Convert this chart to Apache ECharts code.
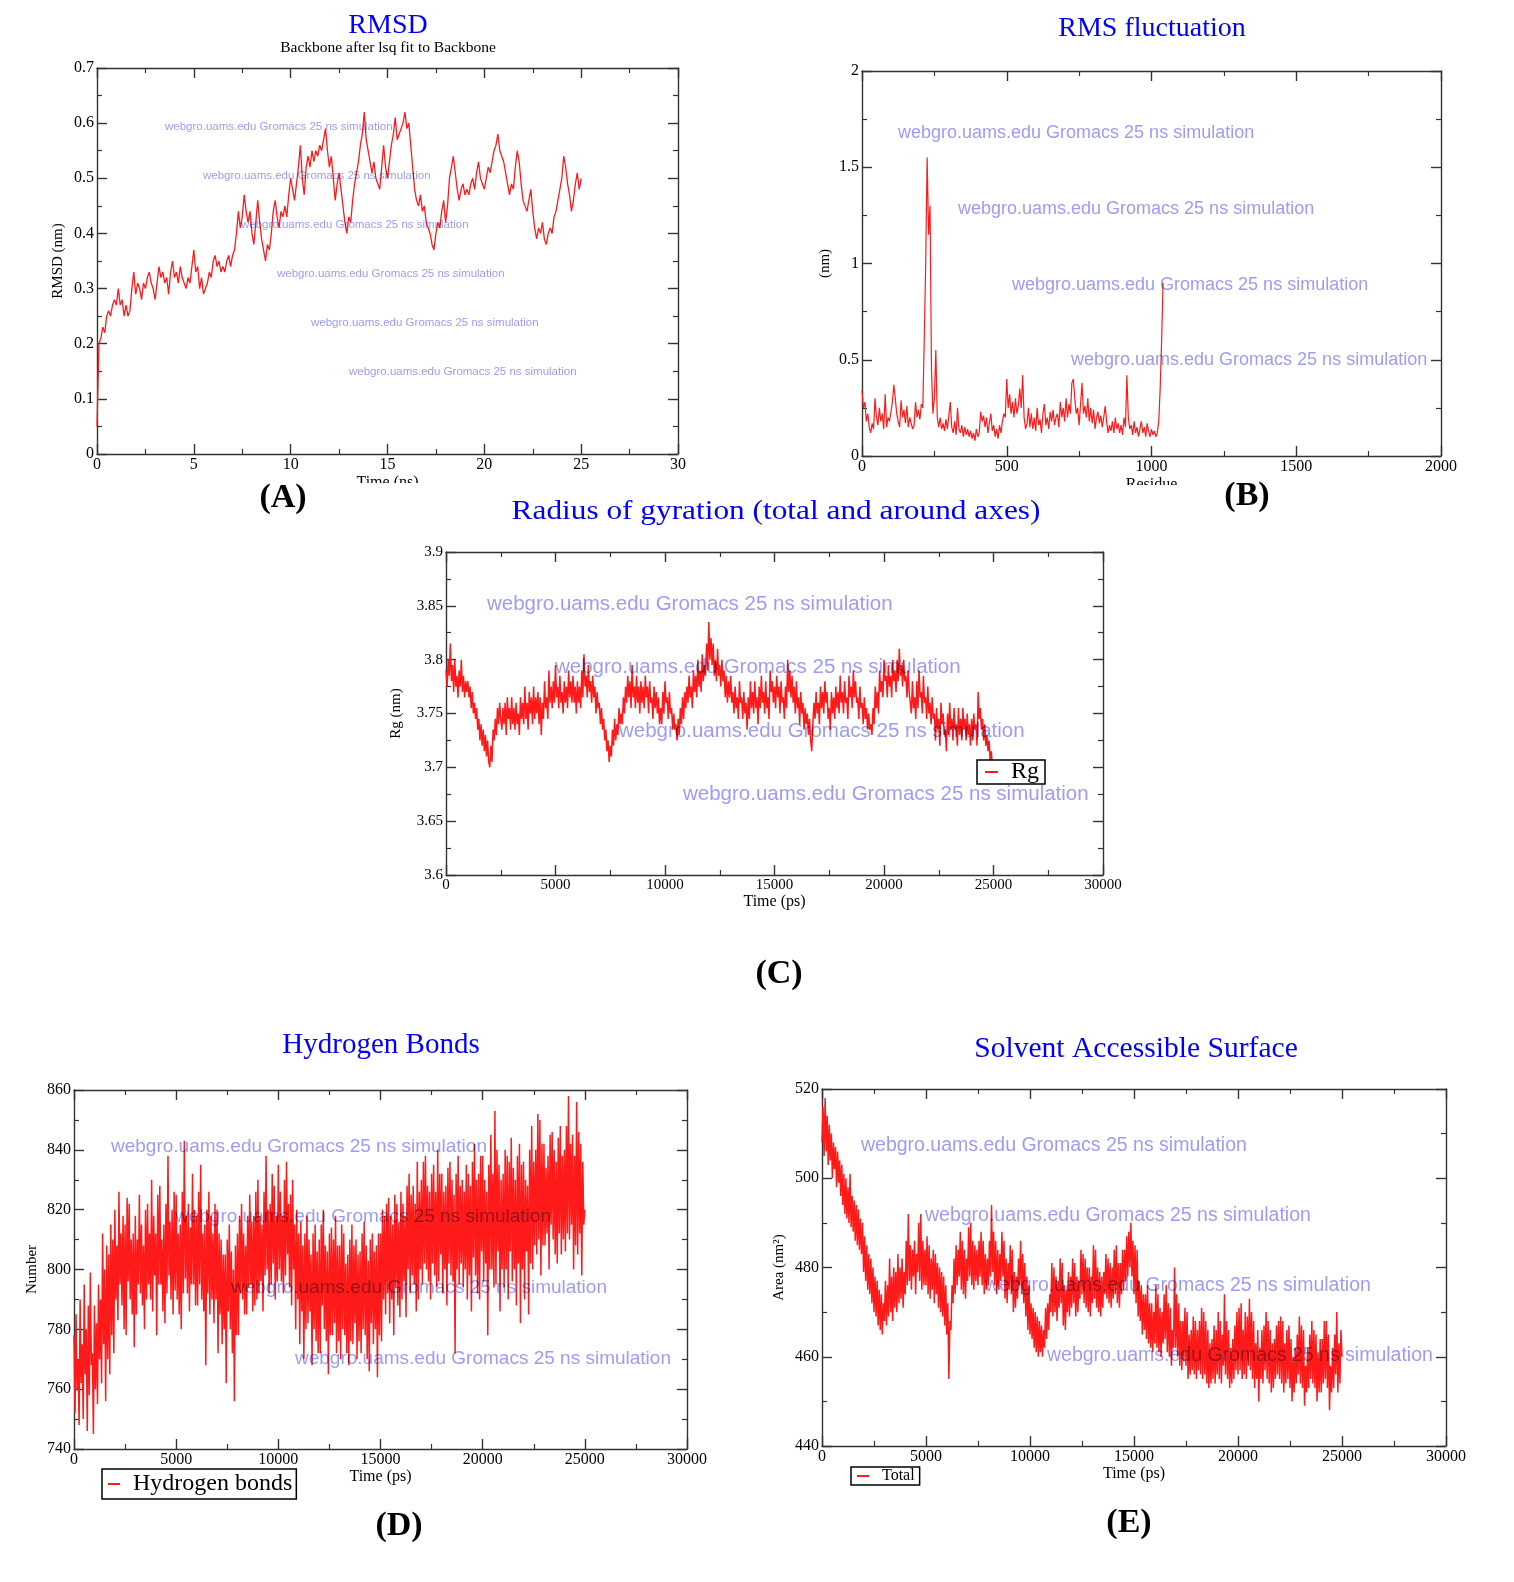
<!DOCTYPE html>
<html><head><meta charset="utf-8">
<script src="https://cdn.jsdelivr.net/npm/echarts@6/dist/echarts.min.js"></script>
<style>html,body{margin:0;padding:0;background:#fff}#c{width:1514px;height:1582px}</style>
</head><body><div id="c"></div>
<script>
// ---------- DATA ----------
// (A) RMSD (nm), one value every 0.1 ns from 0 to 25 ns
const rmsdStepNs = 0.1;
const rmsd = [
0.05,0.20,0.21,0.23,0.22,0.25,0.26,0.25,0.27,0.28,
0.27,0.30,0.27,0.28,0.25,0.27,0.25,0.26,0.30,0.33,
0.29,0.31,0.30,0.28,0.31,0.30,0.32,0.33,0.31,0.30,
0.28,0.31,0.34,0.32,0.33,0.31,0.32,0.29,0.33,0.35,
0.32,0.33,0.31,0.34,0.32,0.31,0.30,0.32,0.31,0.34,
0.37,0.33,0.34,0.30,0.32,0.29,0.30,0.31,0.33,0.32,
0.35,0.36,0.34,0.35,0.33,0.34,0.33,0.35,0.36,0.34,
0.36,0.37,0.40,0.44,0.41,0.43,0.47,0.44,0.42,0.44,
0.40,0.38,0.42,0.46,0.42,0.39,0.37,0.35,0.38,0.37,
0.40,0.44,0.46,0.43,0.41,0.44,0.43,0.45,0.43,0.47,
0.50,0.48,0.46,0.49,0.52,0.56,0.50,0.47,0.52,0.54,
0.52,0.55,0.53,0.55,0.54,0.56,0.55,0.57,0.59,0.55,
0.52,0.54,0.50,0.46,0.49,0.51,0.48,0.45,0.42,0.40,
0.43,0.42,0.46,0.49,0.51,0.53,0.56,0.58,0.62,0.57,
0.55,0.53,0.51,0.53,0.50,0.49,0.48,0.52,0.56,0.52,
0.50,0.53,0.56,0.58,0.61,0.57,0.58,0.59,0.60,0.62,
0.59,0.60,0.56,0.52,0.48,0.46,0.45,0.47,0.44,0.45,
0.42,0.41,0.40,0.38,0.37,0.40,0.42,0.41,0.44,0.46,
0.42,0.45,0.50,0.52,0.54,0.51,0.48,0.46,0.48,0.49,
0.47,0.48,0.47,0.49,0.50,0.48,0.51,0.53,0.50,0.49,
0.48,0.50,0.52,0.51,0.53,0.55,0.56,0.58,0.55,0.54,
0.53,0.51,0.49,0.47,0.49,0.48,0.52,0.55,0.53,0.49,
0.46,0.45,0.44,0.46,0.48,0.44,0.41,0.39,0.41,0.40,
0.42,0.39,0.38,0.40,0.41,0.40,0.43,0.44,0.46,0.48,
0.50,0.54,0.52,0.49,0.47,0.44,0.46,0.49,0.51,0.48,
0.50];

// (B) RMS fluctuation (nm), one value every 5 residues from 0 to 1040
const rmsfStepRes = 5;
const rmsf = [
0.34,0.25,0.28,0.18,0.22,0.15,0.12,0.17,0.14,0.30,
0.20,0.16,0.25,0.18,0.22,0.14,0.32,0.15,0.20,0.18,
0.23,0.28,0.37,0.30,0.22,0.18,0.15,0.29,0.20,0.24,
0.17,0.26,0.15,0.20,0.17,0.14,0.16,0.28,0.20,0.24,
0.19,0.27,0.25,0.60,1.00,1.55,1.15,1.30,0.45,0.22,
0.30,0.55,0.20,0.15,0.20,0.14,0.17,0.13,0.19,0.14,
0.21,0.28,0.15,0.12,0.18,0.11,0.25,0.14,0.12,0.16,
0.10,0.15,0.11,0.14,0.10,0.13,0.09,0.12,0.08,0.14,
0.10,0.12,0.23,0.18,0.21,0.15,0.20,0.12,0.17,0.22,
0.13,0.16,0.10,0.14,0.09,0.16,0.12,0.18,0.22,0.20,
0.40,0.25,0.32,0.22,0.28,0.20,0.30,0.22,0.26,0.35,
0.25,0.42,0.20,0.14,0.17,0.25,0.15,0.22,0.14,0.20,
0.13,0.25,0.16,0.19,0.12,0.22,0.27,0.16,0.20,0.14,
0.23,0.18,0.24,0.16,0.20,0.22,0.15,0.28,0.20,0.25,
0.18,0.30,0.20,0.27,0.22,0.38,0.40,0.30,0.22,0.25,
0.16,0.27,0.38,0.22,0.26,0.20,0.30,0.18,0.25,0.17,
0.24,0.14,0.20,0.23,0.17,0.21,0.15,0.20,0.26,0.18,
0.12,0.16,0.13,0.18,0.12,0.20,0.14,0.17,0.12,0.16,
0.11,0.20,0.15,0.42,0.20,0.14,0.16,0.11,0.18,0.12,
0.15,0.10,0.14,0.18,0.12,0.15,0.10,0.17,0.13,0.10,
0.14,0.11,0.13,0.10,0.12,0.18,0.35,0.60,0.90];

// (C) Radius of gyration (nm), one value every 50 ps from 0 to 25000 ps
const rgStepPs = 50;
const rg = [
3.79,3.775,3.80,3.785,3.815,3.78,3.795,3.77,3.80,3.775,3.785,3.765,3.79,3.775,3.80,3.77,3.785,3.765,3.78,3.77,
3.78,3.765,3.775,3.755,3.77,3.75,3.76,3.745,3.755,3.735,3.745,3.725,3.74,3.72,3.735,3.715,3.73,3.71,3.725,3.705,
3.70,3.72,3.705,3.735,3.725,3.745,3.73,3.755,3.74,3.76,3.745,3.735,3.755,3.74,3.76,3.73,3.765,3.745,3.755,3.735,
3.765,3.74,3.755,3.735,3.76,3.74,3.75,3.73,3.765,3.745,3.76,3.74,3.775,3.745,3.76,3.735,3.77,3.75,3.765,3.74,
3.775,3.745,3.765,3.75,3.77,3.74,3.765,3.73,3.76,3.745,3.78,3.755,3.765,3.745,3.79,3.76,3.775,3.755,3.78,3.76,
3.795,3.765,3.775,3.755,3.785,3.76,3.77,3.75,3.78,3.76,3.775,3.755,3.79,3.765,3.78,3.76,3.785,3.76,3.775,3.75,
3.78,3.76,3.775,3.755,3.79,3.765,3.805,3.775,3.785,3.765,3.795,3.77,3.78,3.76,3.785,3.765,3.775,3.75,3.77,3.755,
3.76,3.74,3.755,3.735,3.745,3.725,3.735,3.715,3.725,3.705,3.72,3.71,3.735,3.72,3.745,3.725,3.74,3.73,3.755,3.74,
3.75,3.74,3.765,3.75,3.775,3.76,3.785,3.765,3.78,3.755,3.795,3.765,3.775,3.755,3.785,3.76,3.775,3.75,3.78,3.76,
3.775,3.755,3.785,3.765,3.775,3.75,3.78,3.76,3.765,3.745,3.775,3.755,3.77,3.75,3.765,3.74,3.755,3.74,3.77,3.75,
3.78,3.76,3.765,3.745,3.77,3.75,3.755,3.735,3.75,3.735,3.74,3.725,3.745,3.73,3.755,3.74,3.765,3.745,3.77,3.755,
3.775,3.76,3.785,3.765,3.775,3.755,3.79,3.77,3.785,3.765,3.80,3.775,3.79,3.77,3.805,3.78,3.795,3.785,3.815,3.79,
3.835,3.80,3.82,3.795,3.815,3.785,3.80,3.78,3.81,3.785,3.795,3.775,3.80,3.78,3.79,3.765,3.785,3.76,3.78,3.765,
3.785,3.76,3.77,3.75,3.775,3.755,3.765,3.745,3.78,3.76,3.765,3.745,3.77,3.75,3.76,3.735,3.765,3.745,3.78,3.755,
3.77,3.75,3.78,3.755,3.765,3.74,3.775,3.755,3.785,3.76,3.77,3.75,3.78,3.755,3.765,3.745,3.79,3.77,3.78,3.76,
3.775,3.755,3.785,3.765,3.775,3.75,3.78,3.76,3.765,3.745,3.775,3.755,3.80,3.77,3.79,3.765,3.785,3.76,3.775,3.75,
3.78,3.755,3.765,3.74,3.77,3.75,3.76,3.735,3.755,3.74,3.75,3.73,3.745,3.725,3.715,3.74,3.76,3.745,3.77,3.75,
3.76,3.74,3.775,3.755,3.77,3.75,3.78,3.76,3.77,3.745,3.755,3.735,3.77,3.75,3.765,3.745,3.775,3.755,3.77,3.75,
3.785,3.76,3.77,3.75,3.78,3.76,3.765,3.745,3.785,3.765,3.775,3.755,3.79,3.765,3.78,3.76,3.765,3.745,3.775,3.755,
3.76,3.74,3.765,3.745,3.755,3.735,3.75,3.735,3.74,3.73,3.755,3.74,3.775,3.755,3.77,3.75,3.79,3.77,3.78,3.765,
3.80,3.78,3.785,3.765,3.795,3.775,3.785,3.765,3.80,3.78,3.79,3.77,3.80,3.78,3.81,3.785,3.795,3.775,3.80,3.78,
3.785,3.765,3.79,3.77,3.77,3.75,3.78,3.755,3.765,3.745,3.78,3.755,3.79,3.765,3.77,3.75,3.785,3.76,3.765,3.745,
3.775,3.75,3.76,3.74,3.765,3.745,3.75,3.725,3.755,3.735,3.745,3.72,3.76,3.74,3.75,3.73,3.735,3.715,3.75,3.73,
3.76,3.735,3.745,3.725,3.755,3.735,3.74,3.72,3.755,3.73,3.745,3.725,3.755,3.735,3.745,3.725,3.75,3.73,3.74,3.72,
3.745,3.725,3.75,3.735,3.74,3.72,3.77,3.745,3.755,3.735,3.745,3.725,3.74,3.72,3.73,3.715,3.725,3.705,3.715,3.70,
3.705];

// (D) Hydrogen bonds (count), one value every 50 ps from 0 to 25000 ps
const hbStepPs = 50;
const hbonds = [
778,752,785,760,770,748,790,762,775,750,795,765,780,746,788,758,799,768,772,745,
788,760,782,755,795,770,790,762,812,775,800,756,808,770,805,765,815,778,810,772,
820,790,808,783,826,795,812,788,818,780,815,778,824,796,822,790,810,785,812,774,
818,785,810,795,825,792,815,788,808,780,820,790,822,795,812,790,830,786,818,798,
812,778,825,795,828,795,810,786,815,782,822,792,838,798,816,790,820,785,826,793,
825,790,812,785,815,780,826,792,843,797,818,792,822,786,814,795,832,795,820,788,
818,788,826,795,835,790,812,786,815,768,820,792,826,785,818,790,812,782,822,790,
820,772,812,785,810,775,805,780,805,762,810,786,815,780,806,772,800,756,808,778,
812,778,818,792,822,790,812,785,808,785,818,794,825,795,816,786,818,788,826,790,
830,792,818,796,815,786,826,798,838,800,820,792,822,795,832,802,828,790,818,796,
835,800,826,796,818,792,830,798,836,805,822,794,825,788,830,800,815,780,820,790,
812,775,816,786,808,770,812,780,818,782,810,786,805,768,812,780,815,776,806,772,
810,772,815,788,820,780,808,776,806,765,812,778,814,778,810,782,818,772,808,776,
808,770,815,780,812,778,802,772,805,768,810,776,815,775,808,782,810,770,805,776,
806,772,812,780,816,778,808,770,803,766,810,782,812,775,806,780,808,764,812,778,
812,776,820,790,818,785,822,792,824,782,818,790,815,778,825,794,822,788,816,784,
826,790,822,796,818,784,828,800,832,792,825,798,828,795,822,786,836,790,826,800,
830,795,836,802,838,800,828,796,826,790,832,802,835,798,826,794,840,796,832,805,
832,792,826,800,828,788,834,802,836,798,830,796,825,772,832,800,838,795,828,802,
830,794,826,800,835,790,832,798,828,786,836,804,842,798,830,792,832,790,838,806,
838,796,830,802,826,778,835,800,845,800,832,794,853,795,840,806,835,786,830,800,
832,794,840,800,838,790,836,806,844,796,834,800,830,788,838,802,842,782,835,800,
836,790,830,806,828,785,840,802,848,800,836,808,840,805,852,810,850,798,842,808,
842,808,834,812,838,800,845,815,846,810,840,805,836,802,844,812,848,805,838,810,
840,806,848,812,858,810,842,815,845,800,838,808,856,805,846,812,842,798,836,815,
820];

// (E) Solvent accessible surface, total (nm^2), one value every 50 ps
const sasStepPs = 50;
const sasTotal = [
508,516,505,518,506,514,503,512,504,510,500,508,502,507,498,506,499,504,496,503,
494,501,492,500,491,498,490,501,489,496,488,495,486,494,485,493,484,491,483,490,
479,487,477,485,475,483,474,482,472,480,470,478,469,477,467,475,466,474,465,472,
468,477,467,476,469,482,470,478,468,480,471,479,470,483,472,480,473,482,471,479,
474,486,476,492,477,485,475,484,478,486,474,483,479,490,477,492,475,486,476,484,
476,487,474,485,473,482,475,484,472,483,474,481,471,480,470,479,469,478,467,476,
465,472,455,468,466,476,472,482,474,485,476,484,478,488,475,486,474,484,473,482,
477,489,478,490,476,486,475,485,477,484,476,486,478,488,476,486,474,483,475,482,
476,486,478,494,479,488,476,486,474,484,475,483,477,488,478,486,473,482,472,481,
475,485,474,484,470,479,471,478,473,482,476,486,474,483,472,481,469,478,466,476,
465,472,464,471,462,470,461,469,460,468,461,467,460,466,462,471,464,472,466,474,
470,481,469,480,470,478,468,477,471,482,472,481,467,476,466,475,470,479,469,478,
471,482,472,481,469,478,470,477,473,484,474,483,472,482,471,480,470,480,469,478,
472,485,473,484,471,480,470,479,469,478,471,479,474,483,473,482,472,481,471,480,
473,484,474,485,472,481,471,481,474,484,475,484,477,487,478,488,480,490,478,486,
474,485,472,484,469,477,468,476,465,474,466,474,464,476,463,472,462,472,461,470,
463,476,462,474,461,471,460,470,463,474,464,476,461,472,460,471,458,466,462,480,
462,474,460,472,458,468,457,468,459,471,458,470,455,465,456,466,457,469,456,468,
455,466,457,468,456,471,455,470,456,468,454,466,453,463,454,464,455,467,454,466,
456,470,455,468,454,465,458,474,456,468,455,466,453,462,454,464,455,467,457,470,
456,471,457,472,455,466,456,470,455,469,458,473,457,470,455,468,453,463,455,466,
450,462,455,466,454,467,457,470,455,468,454,466,452,463,453,464,455,467,456,468,
455,469,454,468,452,463,454,466,455,467,453,464,450,460,452,462,454,465,456,469,
454,467,453,466,449,458,452,462,453,465,455,468,454,466,453,465,450,461,452,464,
452,464,454,468,455,468,453,465,448,458,452,462,453,465,456,470,452,463,454,466,
460];

// Texts
const titles = ['RMSD','RMS fluctuation','Radius of gyration (total and around axes)','Hydrogen Bonds','Solvent Accessible Surface'];
const subtitleA = 'Backbone after lsq fit to Backbone';
const panelLabels = ['(A)','(B)','(C)','(D)','(E)'];
const watermark = 'webgro.uams.edu Gromacs 25 ns simulation';
const seriesNames = ['RMSD','RMSF','Rg','Hydrogen bonds','Total'];
const xNames = ['Time (ns)','Residue','Time (ps)','Time (ps)','Time (ps)'];
const yNames = ['RMSD (nm)','(nm)','Rg (nm)','Number','Area (nm\u00B2)'];

// ---------- LAYOUT ----------
const SERIF = 'Liberation Serif';
const SANS = 'Liberation Sans';
const grids = [
  {left:97, top:68, width:581, height:386},
  {left:862, top:71, width:579, height:385},
  {left:446, top:552, width:657, height:323},
  {left:74, top:1090, width:613, height:359},
  {left:822, top:1089, width:624, height:357}
];
const xr = [ {min:0,max:30,interval:5}, {min:0,max:2000,interval:500}, {min:0,max:30000,interval:5000}, {min:0,max:30000,interval:5000}, {min:0,max:30000,interval:5000} ];
const yr = [ {min:0,max:0.7,interval:0.1}, {min:0,max:2,interval:0.5}, {min:3.6,max:3.9,interval:0.05}, {min:740,max:860,interval:20}, {min:440,max:520,interval:20} ];
const tickFont = [16,16,15,16,16];
const xNameGap = [21,21,14,18,18];
const yNameGap = [31,29,42,34,35];
const lineWidths = [1.3,1.2,1.5,1.5,1.5];

const axisColor = '#333';
const fmt = v => String(Math.round(v*1000)/1000);
function baseAxis(r, gi, pos, showLabel, fs){
  return {
    type:'value', gridIndex:gi, position:pos, min:r.min, max:r.max, interval:r.interval,
    axisLine:{show:true, onZero:false, lineStyle:{color:axisColor, width:1.4}},
    axisTick:{show:true, inside:true, length:10, lineStyle:{color:axisColor, width:1.4}},
    minorTick:{show:true, splitNumber:2, length:5, lineStyle:{color:axisColor, width:1.2}},
    splitLine:{show:false},
    axisLabel:{show:showLabel, fontFamily:SERIF, fontSize:fs, color:'#000', margin:3, hideOverlap:false,
      showMinLabel:true, showMaxLabel:true, formatter:fmt}
  };
}
const xAxes = [], yAxes = [];
grids.forEach((g,i)=>{
  const xb = baseAxis(xr[i], i, 'bottom', true, tickFont[i]);
  xb.name = xNames[i]; xb.nameLocation='middle'; xb.nameGap = xNameGap[i];
  xb.nameTextStyle = {fontFamily:SERIF, fontSize:16, color:'#000'};
  xAxes.push(xb);
  xAxes.push(baseAxis(xr[i], i, 'top', false, tickFont[i]));
  const yl = baseAxis(yr[i], i, 'left', true, tickFont[i]);
  yl.name = yNames[i]; yl.nameLocation='middle'; yl.nameGap = yNameGap[i]; yl.nameRotate = 90;
  yl.nameTextStyle = {fontFamily:SERIF, fontSize:15, color:'#000'};
  yAxes.push(yl);
  yAxes.push(baseAxis(yr[i], i, 'right', false, tickFont[i]));
});

const pairs = (arr, step) => arr.map((v,i)=>[+(i*step).toFixed(3), v]);
const seriesData = [pairs(rmsd, rmsdStepNs), pairs(rmsf, rmsfStepRes), pairs(rg, rgStepPs), pairs(hbonds, hbStepPs), pairs(sasTotal, sasStepPs)];
const series = seriesData.map((d,i)=>({
  name: seriesNames[i], type:'line', xAxisIndex:2*i, yAxisIndex:2*i, data:d,
  showSymbol:false, symbol:'none', lineStyle:{color:'#ff1a1a', width:lineWidths[i]}, itemStyle:{color:'#ff1a1a'},
  z:2, animation:false
}));

// ---------- GRAPHIC TEXT ----------
const titlePos = [[388,26],[1152,29],[776,512],[381,1045],[1136,1049]];
const titleSize = [28,28,27,29,29];
const titleScaleX = [1,1,1.16,1,1.02];
const panelPos = [[283,498],[1247,496],[779,974],[399,1526],[1129,1523]];
const wmSpec = [
  {fs:11.5, pts:[[165,127],[203,176],[241,225],[277,274],[311,323],[349,372]]},
  {fs:18, pts:[[898,133],[958,209],[1012,285],[1071,360]]},
  {fs:20.5, pts:[[487,604],[555,667],[619,731],[683,794]]},
  {fs:19, pts:[[111,1147],[175,1217],[231,1288],[295,1359]]},
  {fs:19.5, pts:[[861,1146],[925,1216],[985,1286],[1047,1356]]}
];
const graphics = [];
// covers that clip the lower half of two axis names, as in the reference
graphics.push({type:'rect', shape:{x:330,y:483,width:120,height:20}, style:{fill:'#fff'}, z:50});
graphics.push({type:'rect', shape:{x:1100,y:485,width:110,height:20}, style:{fill:'#fff'}, z:50});
titles.forEach((t,i)=>graphics.push({type:'text', x:titlePos[i][0], y:titlePos[i][1], z:60, scaleX:titleScaleX[i],
  style:{text:t, fill:'#0000ff', font:titleSize[i]+'px "'+SERIF+'"', textAlign:'center', textVerticalAlign:'middle'}}));
graphics.push({type:'text', x:388, y:48, z:60, style:{text:subtitleA, fill:'#000', font:'15.5px "'+SERIF+'"', textAlign:'center', textVerticalAlign:'middle'}});
panelLabels.forEach((t,i)=>graphics.push({type:'text', x:panelPos[i][0], y:panelPos[i][1], z:60,
  style:{text:t, fill:'#000', font:'bold 34px "'+SERIF+'"', textAlign:'center', textVerticalAlign:'middle'}}));
// watermarks live on their own layer (zlevel 1), which is multiplied over the plot
wmSpec.forEach(s=>s.pts.forEach(p=>graphics.push({type:'text', x:p[0], y:p[1], zlevel:1, z:60, silent:true,
  style:{text:watermark, fill:'#9c9cf6', font:s.fs+'px "'+SANS+'"', textAlign:'left', textVerticalAlign:'middle'}})));

// ---------- LEGENDS ----------
function legendBox(name, left, top, fs, pad, iw){
  return {data:[name], left:left, top:top, orient:'horizontal', icon:'rect', itemWidth:iw, itemHeight:2,
    padding:pad, borderColor:'#000', borderWidth:1.5, backgroundColor:'#fff', itemGap:0,
    textStyle:{fontFamily:SERIF, fontSize:fs, color:'#000', padding:[0,0,0,8]}, selectedMode:false, z:70};
}
const legends = [
  legendBox('Rg', 977, 760, 24, [0,6,0,8], 13),
  legendBox('Hydrogen bonds', 102, 1469, 24, [3,4,3,6], 12),
  legendBox('Total', 851, 1467, 16, [1,5,1,6], 12)
];

const chart = echarts.init(document.getElementById('c'), null, {renderer:'canvas'});
chart.setOption({
  backgroundColor:'#fff', animation:false,
  grid: grids.map(g=>Object.assign({containLabel:false}, g)),
  xAxis: xAxes, yAxis: yAxes, series: series,
  legend: legends,
  graphic: graphics
});
// multiply-blend the watermark layer so it darkens the red traces like the original
const layers = document.querySelectorAll('#c canvas');
for (let k = 1; k < layers.length; k++) layers[k].style.mixBlendMode = 'multiply';
</script></body></html>
